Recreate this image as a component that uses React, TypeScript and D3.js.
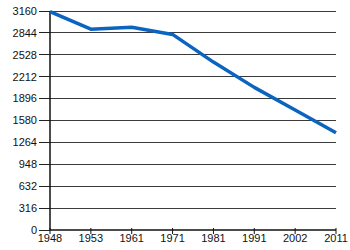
import React from "react";
import * as d3 from "d3";

const years = ["1948", "1953", "1961", "1971", "1981", "1991", "2002", "2011"];
const population = [3150, 2897, 2926, 2822, 2423, 2058, 1732, 1403];
const yTicks = [0, 316, 632, 948, 1264, 1580, 1896, 2212, 2528, 2844, 3160];

export default function App() {
  const W = 350, H = 250;
  const left = 50, right = 336, top = 11, bottom = 230;
  const x = d3.scalePoint<string>().domain(years).range([left, right]);
  const y = d3.scaleLinear().domain([0, 3160]).range([bottom, top]);
  const line = d3
    .line<number>()
    .x((_, i) => x(years[i]) as number)
    .y((d) => y(d));
  const font = "'Liberation Sans', Arial, sans-serif";
  return (
    <svg
      width={W}
      height={H}
      style={{ position: "absolute", left: 0, top: 0, background: "#fff" }}
    >
      {yTicks.map((t) => (
        <g key={t}>
          {t > 0 && (
            <line x1={left} x2={right} y1={y(t)} y2={y(t)} stroke="#3a3a3a" strokeWidth={1} shapeRendering="crispEdges" />
          )}
          <line x1={39} x2={left} y1={y(t)} y2={y(t)} stroke="#222" strokeWidth={1} shapeRendering="crispEdges" />
          <text x={37} y={y(t)} dy="0.35em" textAnchor="end" fontSize={11} fontFamily={font} fill="#111">
            {t}
          </text>
        </g>
      ))}
      <line x1={left} x2={left} y1={top} y2={bottom} stroke="#111" strokeWidth={1.5} />
      <line x1={left} x2={right} y1={bottom} y2={bottom} stroke="#111" strokeWidth={1.5} />
      {years.map((yr) => (
        <g key={yr}>
          <line x1={x(yr)} x2={x(yr)} y1={bottom - 2} y2={bottom + 4} stroke="#111" strokeWidth={1} />
          <text x={x(yr)} y={238} dy="0.35em" textAnchor="middle" fontSize={11} fontFamily={font} fill="#111">
            {yr}
          </text>
        </g>
      ))}
      <path d={line(population) || ""} fill="none" stroke="#0a64c0" strokeWidth={3.5} strokeLinejoin="round" />
    </svg>
  );
}
